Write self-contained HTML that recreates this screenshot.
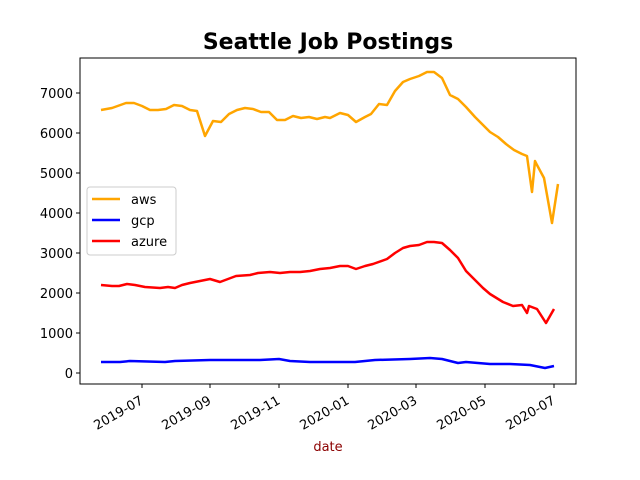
<!DOCTYPE html>
<html><head><style>body{margin:0;background:#fff}svg{display:block}</style></head><body>
<svg width="640" height="480" xmlns="http://www.w3.org/2000/svg" font-family="DejaVu Sans, Liberation Sans, sans-serif">
<rect width="640" height="480" fill="#fff"/>
<text x="328" y="49" font-size="22" font-weight="bold" text-anchor="middle">Seattle Job Postings</text>
<g fill="none" stroke-width="2.5" stroke-linejoin="round">
<polyline stroke="#ffa500" points="101,110 112,108 126,103 134,103 142,106 150,110 158,110 166,109 174,105 182,106 190,110 197,111 205,136 213,121 221,122 229,114 237,110 245,108 253,109 261,112 269,112 277,120 285,120 293,116 301,118 309,117 317,119 325,117 330,118 340,113 348,115 356,122 365,117 371,114 379,104 387,105 395,91 403,82 410,79 419,76 427,72 434,72 442,78 450,95 458,99 466,107 475,117 483,125 490,132 498,137 506,144 514,150 522,154 527,156 532,192 535,161 537,165 544,178 552,223 558,184"/>
<polyline stroke="#0000ff" points="101,362 120,362 130,361 165,362 175,361 210,360 220,360 240,360 260,360 279,359 290,361 310,362 330,362 355,362 375,360 410,359 430,358 442,359 458,363 466,362 490,364 510,364 530,365 545,368 554,366"/>
<polyline stroke="#ff0000" points="101,285 112,286 119,286 127,284 135,285 145,287 160,288 168,287 175,288 182,285 190,283 200,281 210,279 220,282 236,276 250,275 258,273 270,272 280,273 290,272 300,272 310,271 320,269 330,268 340,266 348,266 356,269 365,266 373,264 387,259 395,253 403,248 410,246 419,245 427,242 434,242 442,243 450,250 458,258 466,271 475,280 483,288 490,294 503,302 513,306 522,305 527,313 529,306 537,309 546,323 554,309"/>
</g>
<rect x="80" y="58" width="496" height="326" fill="none" stroke="#000" stroke-width="1"/>
<g font-size="13" text-anchor="end">
<g stroke="#000"><line x1="76" x2="80" y1="373" y2="373"/><line x1="76" x2="80" y1="333" y2="333"/><line x1="76" x2="80" y1="293" y2="293"/><line x1="76" x2="80" y1="253" y2="253"/><line x1="76" x2="80" y1="213" y2="213"/><line x1="76" x2="80" y1="173" y2="173"/><line x1="76" x2="80" y1="133" y2="133"/><line x1="76" x2="80" y1="93" y2="93"/></g>
<text x="73" y="378">0</text><text x="73" y="338">1000</text><text x="73" y="298">2000</text><text x="73" y="258">3000</text><text x="73" y="218">4000</text><text x="73" y="178">5000</text><text x="73" y="138">6000</text><text x="73" y="98">7000</text>
</g>
<g stroke="#000"><line x1="142" x2="142" y1="384" y2="388"/><line x1="210" x2="210" y1="384" y2="388"/><line x1="279" x2="279" y1="384" y2="388"/><line x1="348" x2="348" y1="384" y2="388"/><line x1="416" x2="416" y1="384" y2="388"/><line x1="485" x2="485" y1="384" y2="388"/><line x1="554" x2="554" y1="384" y2="388"/></g>
<g font-size="13" text-anchor="end">
<text transform="translate(144,403) rotate(-30)">2019-07</text>
<text transform="translate(212,403) rotate(-30)">2019-09</text>
<text transform="translate(281,403) rotate(-30)">2019-11</text>
<text transform="translate(350,403) rotate(-30)">2020-01</text>
<text transform="translate(418,403) rotate(-30)">2020-03</text>
<text transform="translate(487,403) rotate(-30)">2020-05</text>
<text transform="translate(556,403) rotate(-30)">2020-07</text>
</g>
<text x="328" y="451" font-size="13" fill="#8b0000" text-anchor="middle">date</text>
<rect x="87" y="187" width="89" height="68" rx="3" fill="#fff" fill-opacity="0.8" stroke="#ccc"/>
<g stroke-width="2.5"><line x1="92" x2="120" y1="199" y2="199" stroke="#ffa500"/><line x1="92" x2="120" y1="220" y2="220" stroke="#0000ff"/><line x1="92" x2="120" y1="241" y2="241" stroke="#ff0000"/></g>
<g font-size="13"><text x="131" y="204">aws</text><text x="131" y="225">gcp</text><text x="131" y="246">azure</text></g>
</svg>
</body></html>
